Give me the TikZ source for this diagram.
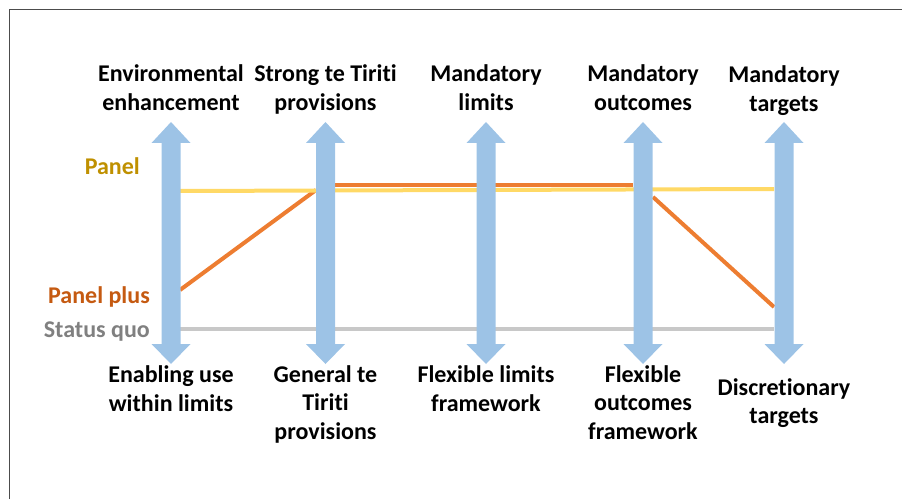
\documentclass[tikz,border=0pt]{standalone}
\usepackage{fontspec}
\setmainfont{Carlito}[Ligatures=NoCommon]
\definecolor{arrowblue}{RGB}{157,195,230}
\definecolor{panelyellow}{RGB}{255,217,102}
\definecolor{panelgold}{RGB}{191,144,0}
\definecolor{plusorange}{RGB}{237,125,49}
\definecolor{plustext}{RGB}{197,90,17}
\definecolor{quogray}{RGB}{200,200,200}
\definecolor{quotext}{RGB}{128,128,128}
\tikzset{
    lbl/.style={font=\bfseries\fontsize{24}{28.5}\selectfont, align=center, anchor=base, inner sep=0pt},
    sidelbl/.style={font=\bfseries\fontsize{24}{28.5}\selectfont, anchor=base east, inner sep=0pt},
    trace/.style={line width=4pt}
}

\begin{document}
\begin{tikzpicture}[x=1pt,y=1pt]
    \useasboundingbox (0,0) rectangle (902,499);

    % Draw frame
    \draw[line width=1pt, black!70] (9,0) -- (9,489) -- (902,489);

    % Crossing points on the arrows
    \coordinate (pan1) at (180,308);
    \coordinate (pan5) at (774,310);
    \coordinate (plus1) at (180,209);
    \coordinate (plus2) at (316,309);
    \coordinate (plus2r) at (335,314);
    \coordinate (plus4) at (633,314);
    \coordinate (plus4r) at (653,302);
    \coordinate (plus5) at (774,192);
    \coordinate (quo1) at (180,170);
    \coordinate (quo5) at (774,170);

    % Draw Status quo
    \draw[trace, quogray] (quo1) -- (quo5);

    % Draw Panel plus
    \draw[trace, plusorange] (plus1) -- (plus2);
    \draw[trace, plusorange] (plus2r) -- (plus4);
    \draw[trace, plusorange] (plus4r) -- (plus5);

    % Draw Panel
    \draw[trace, panelyellow] (pan1) -- (pan5);

    % Draw arrows
    \foreach \x in {171,325.5,486,643,784}
        \fill[arrowblue] (\x-9.5,356) -- (\x-19.5,356) -- (\x,377)
            -- (\x+19.5,356) -- (\x+9.5,356) -- (\x+9.5,155)
            -- (\x+19.5,155) -- (\x,135) -- (\x-19.5,155)
            -- (\x-9.5,155) -- cycle;

    % Labels (top)
    \node[lbl] (t1) at (171,388.5) {Environmental\\enhancement};
    \node[lbl] (t2) at (325.5,388.5) {Strong te Tiriti\\provisions};
    \node[lbl] (t3) at (486,388.5) {Mandatory\\limits};
    \node[lbl] (t4) at (643,388.5) {Mandatory\\outcomes};
    \node[lbl] (t5) at (784,387.5) {Mandatory\\targets};

    % Labels (bottom)
    \node[lbl] (b1) at (171,88) {Enabling use\\within limits};
    \node[lbl] (b2) at (325.5,60) {General te\\Tiriti\\provisions};
    \node[lbl] (b3) at (486,88) {Flexible limits\\framework};
    \node[lbl] (b4) at (643,60) {Flexible\\outcomes\\framework};
    \node[lbl] (b5) at (784,75.5) {Discretionary\\targets};

    % Labels (side)
    \node[sidelbl, panelgold] (lpanel) at (140,324) {Panel};
    \node[sidelbl, plustext] (lplus) at (150,196) {Panel plus};
    \node[sidelbl, quotext] (lquo) at (150,162) {Status quo};

\end{tikzpicture}
\end{document}
